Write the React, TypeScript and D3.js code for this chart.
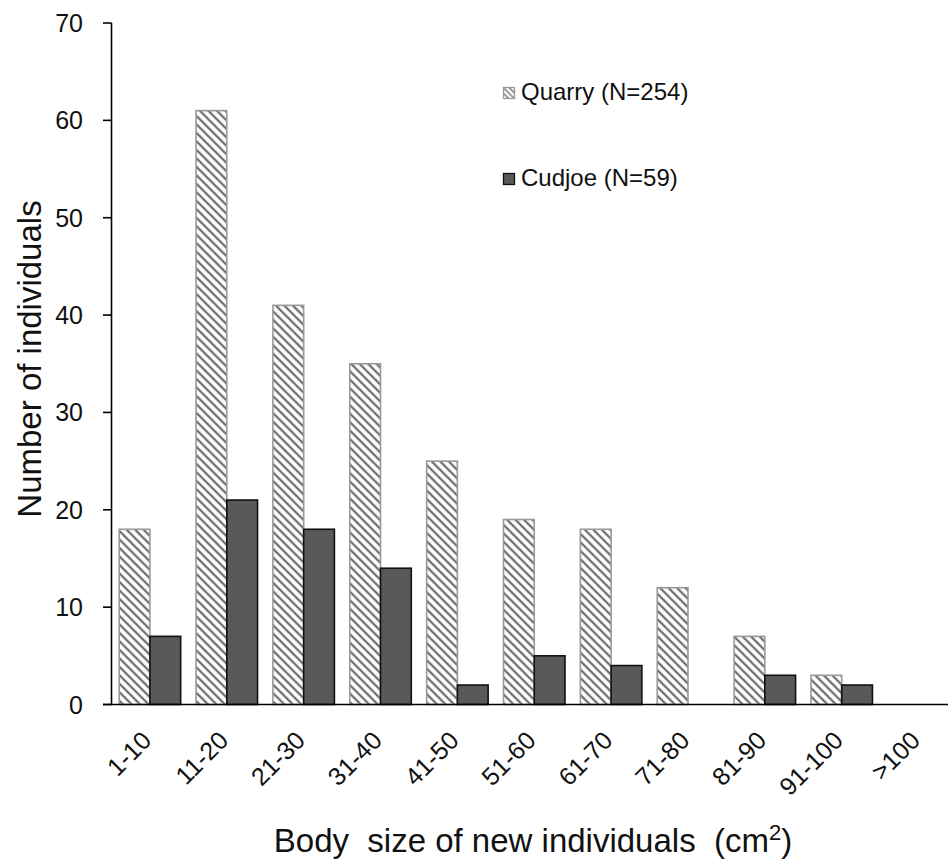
import React from "react";
import * as d3 from "d3";

const categories = ["1-10", "11-20", "21-30", "31-40", "41-50", "51-60", "61-70", "71-80", "81-90", "91-100", ">100"];
const quarry = [18, 61, 41, 35, 25, 19, 18, 12, 7, 3, 0];
const cudjoe = [7, 21, 18, 14, 2, 5, 4, 0, 3, 2, 0];
const seriesNames = ["Quarry (N=254)", "Cudjoe (N=59)"];
const yTicks = [0, 10, 20, 30, 40, 50, 60, 70];

const W = 950;
const H = 862;
const FONT = "'Liberation Sans', Arial, sans-serif";

export default function App() {
  const x = d3.scaleBand<string>().domain(categories).range([111.5, 957]).paddingInner(0).paddingOuter(0);
  const xs = d3.scaleBand<string>().domain(["q", "c"]).range([0, x.bandwidth()]).paddingInner(0).paddingOuter(0.25);
  const y = d3.scaleLinear().domain([0, 70]).range([704.5, 23]);
  const series = [
    { key: "q", values: quarry, fill: "url(#hatch)", stroke: "#9a9a9a" },
    { key: "c", values: cudjoe, fill: "#595959", stroke: "#111" },
  ];

  return (
    <svg width={W} height={H} style={{ display: "block", position: "absolute", left: 0, top: 0 }} fontFamily={FONT}>
      <defs>
        <pattern id="hatch" patternUnits="userSpaceOnUse" width={6} height={6} patternTransform="rotate(-45)">
          <rect width={6} height={6} fill="#fff" />
          <line x1={3} y1={0} x2={3} y2={6} stroke="#707070" strokeWidth={2.3} />
        </pattern>
        <pattern id="hatchS" patternUnits="userSpaceOnUse" width={4} height={4} patternTransform="rotate(-45)">
          <rect width={4} height={4} fill="#fff" />
          <line x1={2} y1={0} x2={2} y2={4} stroke="#6e6e6e" strokeWidth={1.4} />
        </pattern>
      </defs>
      <rect width={W} height={H} fill="#fff" />

      {series.map((s) =>
        s.values.map((v, i) =>
          v > 0 ? (
            <rect
              key={s.key + i}
              x={(x(categories[i]) as number) + (xs(s.key) as number)}
              y={y(v)}
              width={xs.bandwidth()}
              height={y(0) - y(v)}
              fill={s.fill}
              stroke={s.stroke}
              strokeWidth={1.6}
            />
          ) : null
        )
      )}

      {/* y axis */}
      <line x1={111.5} x2={111.5} y1={y(70)} y2={y(0)} stroke="#000" strokeWidth={1.6} />
      {yTicks.map((t) => (
        <g key={t}>
          <line x1={103} x2={111.5} y1={y(t)} y2={y(t)} stroke="#000" strokeWidth={1.6} />
          <text x={83} y={y(t)} textAnchor="end" dominantBaseline="central" fontSize={25} fill="#111">
            {t}
          </text>
        </g>
      ))}
      {/* x axis */}
      <line x1={103} x2={948} y1={y(0)} y2={y(0)} stroke="#000" strokeWidth={1.6} />
      {categories.map((c) => {
        const cx = (x(c) as number) + x.bandwidth() / 2 + 3;
        const cy = 742;
        return (
          <text key={c} x={cx} y={cy} transform={`rotate(-45 ${cx} ${cy})`} textAnchor="end" fontSize={25} fill="#111">
            {c}
          </text>
        );
      })}

      {/* titles */}
      <text x={41} y={359} transform="rotate(-90 41 359)" textAnchor="middle" fontSize={33} fill="#111">
        Number of individuals
      </text>
      <text x={533} y={852} textAnchor="middle" fontSize={33} fill="#111" style={{ whiteSpace: "pre" }}>
        {"Body  size of new individuals  (cm"}
        <tspan fontSize={22} dy={-12}>2</tspan>
        <tspan dy={12}>)</tspan>
      </text>

      {/* legend */}
      <rect x={503.5} y={87.5} width={11} height={11} fill="url(#hatchS)" stroke="#9a9a9a" strokeWidth={1.3} />
      <text x={521} y={100} fontSize={24} fill="#111">{seriesNames[0]}</text>
      <rect x={503.5} y={173.5} width={11} height={11} fill="#595959" stroke="#111" strokeWidth={1.3} />
      <text x={521} y={186} fontSize={24} fill="#111">{seriesNames[1]}</text>
    </svg>
  );
}
